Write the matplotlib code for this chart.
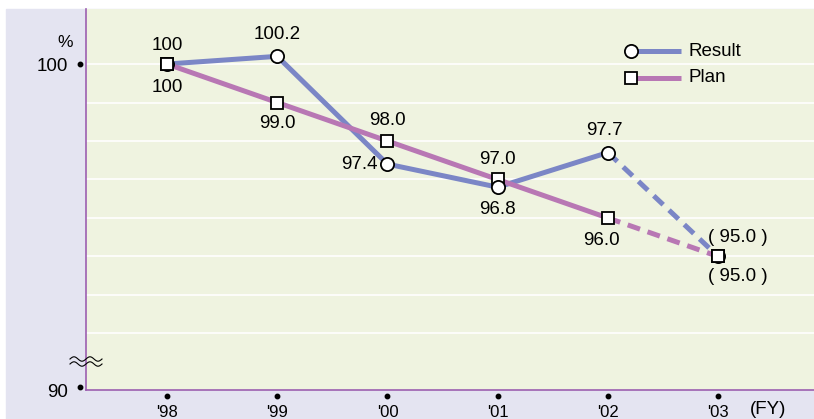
import numpy as np
import matplotlib
matplotlib.use("Agg")
import matplotlib.pyplot as plt
from matplotlib.transforms import blended_transform_factory

plt.rcParams['font.family'] = ['Liberation Sans', 'DejaVu Sans']

years = ["'98", "'99", "'00", "'01", "'02", "'03"]
result = [100.0, 100.2, 97.4, 96.8, 97.7, 95.0]
plan = [100.0, 99.0, 98.0, 97.0, 96.0, 95.0]
result_labels = ["100", "100.2", "97.4", "96.8", "97.7", "( 95.0 )"]
plan_labels = ["100", "99.0", "98.0", "97.0", "96.0", "( 95.0 )"]

# label offsets in pixels (dx, dy, ha)
result_offsets = [(0, 19, 'center'), (0, 22, 'center'), (-10, 0, 'right'),
                  (0, -22, 'center'), (-3, 22, 'center'), (20, 19, 'center')]
plan_offsets = [(0, -23, 'center'), (0, -21, 'center'), (0, 21, 'center'),
                (0, 20, 'center'), (-6, -23, 'center'), (20, -20, 'center')]

c_result = '#7b86c6'
c_plan = '#b877b4'
c_spine = '#9c5fb0'
fs = 13.5

fig = plt.figure(figsize=(8.14, 4.19), dpi=100)
fig.patch.set_facecolor('white')
# lavender backdrop
fig.patches.append(plt.Rectangle((6 / 814, 0), 1, (419 - 9) / 419,
                                 transform=fig.transFigure, color='#e4e4f1', zorder=-5))

ax = fig.add_axes([86 / 814, (419 - 390) / 419, (814 - 86) / 814, (390 - 9) / 419])
ax.set_facecolor('#eff3e0')
x = np.arange(len(years))
ax.set_xlim(-0.735, 5.87)
ax.set_ylim(91.53, 101.43)

for gy in range(93, 101):
    ax.axhline(gy, color='white', lw=1.2, zorder=1)

for s in ['top', 'right']:
    ax.spines[s].set_visible(False)
for s in ['left', 'bottom']:
    ax.spines[s].set_color(c_spine)
    ax.spines[s].set_linewidth(1.2)

lw = 3.6
ax.plot(x[:5], result[:5], color=c_result, lw=lw, zorder=3, solid_capstyle='butt')
ax.plot(x[4:], result[4:], color=c_result, lw=lw, zorder=3, ls=(0, (2.6, 1.6)))
ax.plot(x[:5], plan[:5], color=c_plan, lw=lw, zorder=3, solid_capstyle='butt')
ax.plot(x[4:], plan[4:], color=c_plan, lw=lw, zorder=3, ls=(0, (2.6, 1.6)))

ax.plot(x, result, 'o', ms=9.5, mfc='white', mec='black', mew=1.3, zorder=5, ls='none')
ax.plot(x, plan, 's', ms=8.5, mfc='white', mec='black', mew=1.3, zorder=4, ls='none')
ax.plot(x[0], plan[0], 's', ms=8.5, mfc='white', mec='black', mew=1.3, zorder=6)
ax.plot(x[5], plan[5], 's', ms=8.5, mfc='white', mec='black', mew=1.3, zorder=6)

for xi, v, lab, (dx, dy, ha) in zip(x, result, result_labels, result_offsets):
    ax.annotate(lab, (xi, v), xytext=(dx, dy), textcoords='offset pixels',
                ha=ha, va='center', fontsize=fs, zorder=7)
for xi, v, lab, (dx, dy, ha) in zip(x, plan, plan_labels, plan_offsets):
    ax.annotate(lab, (xi, v), xytext=(dx, dy), textcoords='offset pixels',
                ha=ha, va='center', fontsize=fs, zorder=7)

# axes ticks
ax.set_xticks(x)
ax.set_xticklabels(years, fontsize=12)
ax.tick_params(axis='x', length=0, pad=11)
ax.set_yticks([100, 91.53])
ax.set_yticklabels(['100', '90'], fontsize=fs)
ax.tick_params(axis='y', length=0, pad=13)

tr_y = blended_transform_factory(ax.transAxes, ax.transData)
ax.plot([-6 / 728] * 2, [100, 91.6], 'o', color='black', ms=3.2, transform=tr_y, clip_on=False)
tr_x = blended_transform_factory(ax.transData, ax.transAxes)
ax.plot(x, [-6 / 381] * len(x), 'o', color='black', ms=3.2, transform=tr_x, clip_on=False)

ax.text(-13 / 728, 100.55, '%', transform=tr_y, fontsize=12.5, ha='right', va='center')
ax.text(5.45, -19 / 381, '(FY)', transform=tr_x, fontsize=fs, ha='center', va='center')

# axis break mark
t = np.linspace(0, 1, 60)
bx = (-16 + 32 * t) / 728
for off in (0, -5):
    by = (31 + off + 2.2 * np.sin(2 * np.pi * 2 * t)) / 381
    ax.plot(bx, by, color='black', lw=0.8, transform=ax.transAxes, clip_on=False, zorder=8)

# legend
for i, (name, col, mk, ms) in enumerate([('Result', c_result, 'o', 9.5), ('Plan', c_plan, 's', 8.5)]):
    ly = (390 - 51 - 27 * i) / 381
    lx0 = (631 - 86) / 728
    lx1 = (681 - 86) / 728
    ax.plot([lx0, lx1], [ly, ly], color=col, lw=lw, transform=ax.transAxes, zorder=3,
            solid_capstyle='butt')
    ax.plot([lx0], [ly], mk, ms=ms, mfc='white', mec='black', mew=1.3,
            transform=ax.transAxes, zorder=5)
    ax.text((688 - 86) / 728, ly, name, transform=ax.transAxes, fontsize=fs,
            ha='left', va='center')

fig.savefig('out.png', dpi=100)
